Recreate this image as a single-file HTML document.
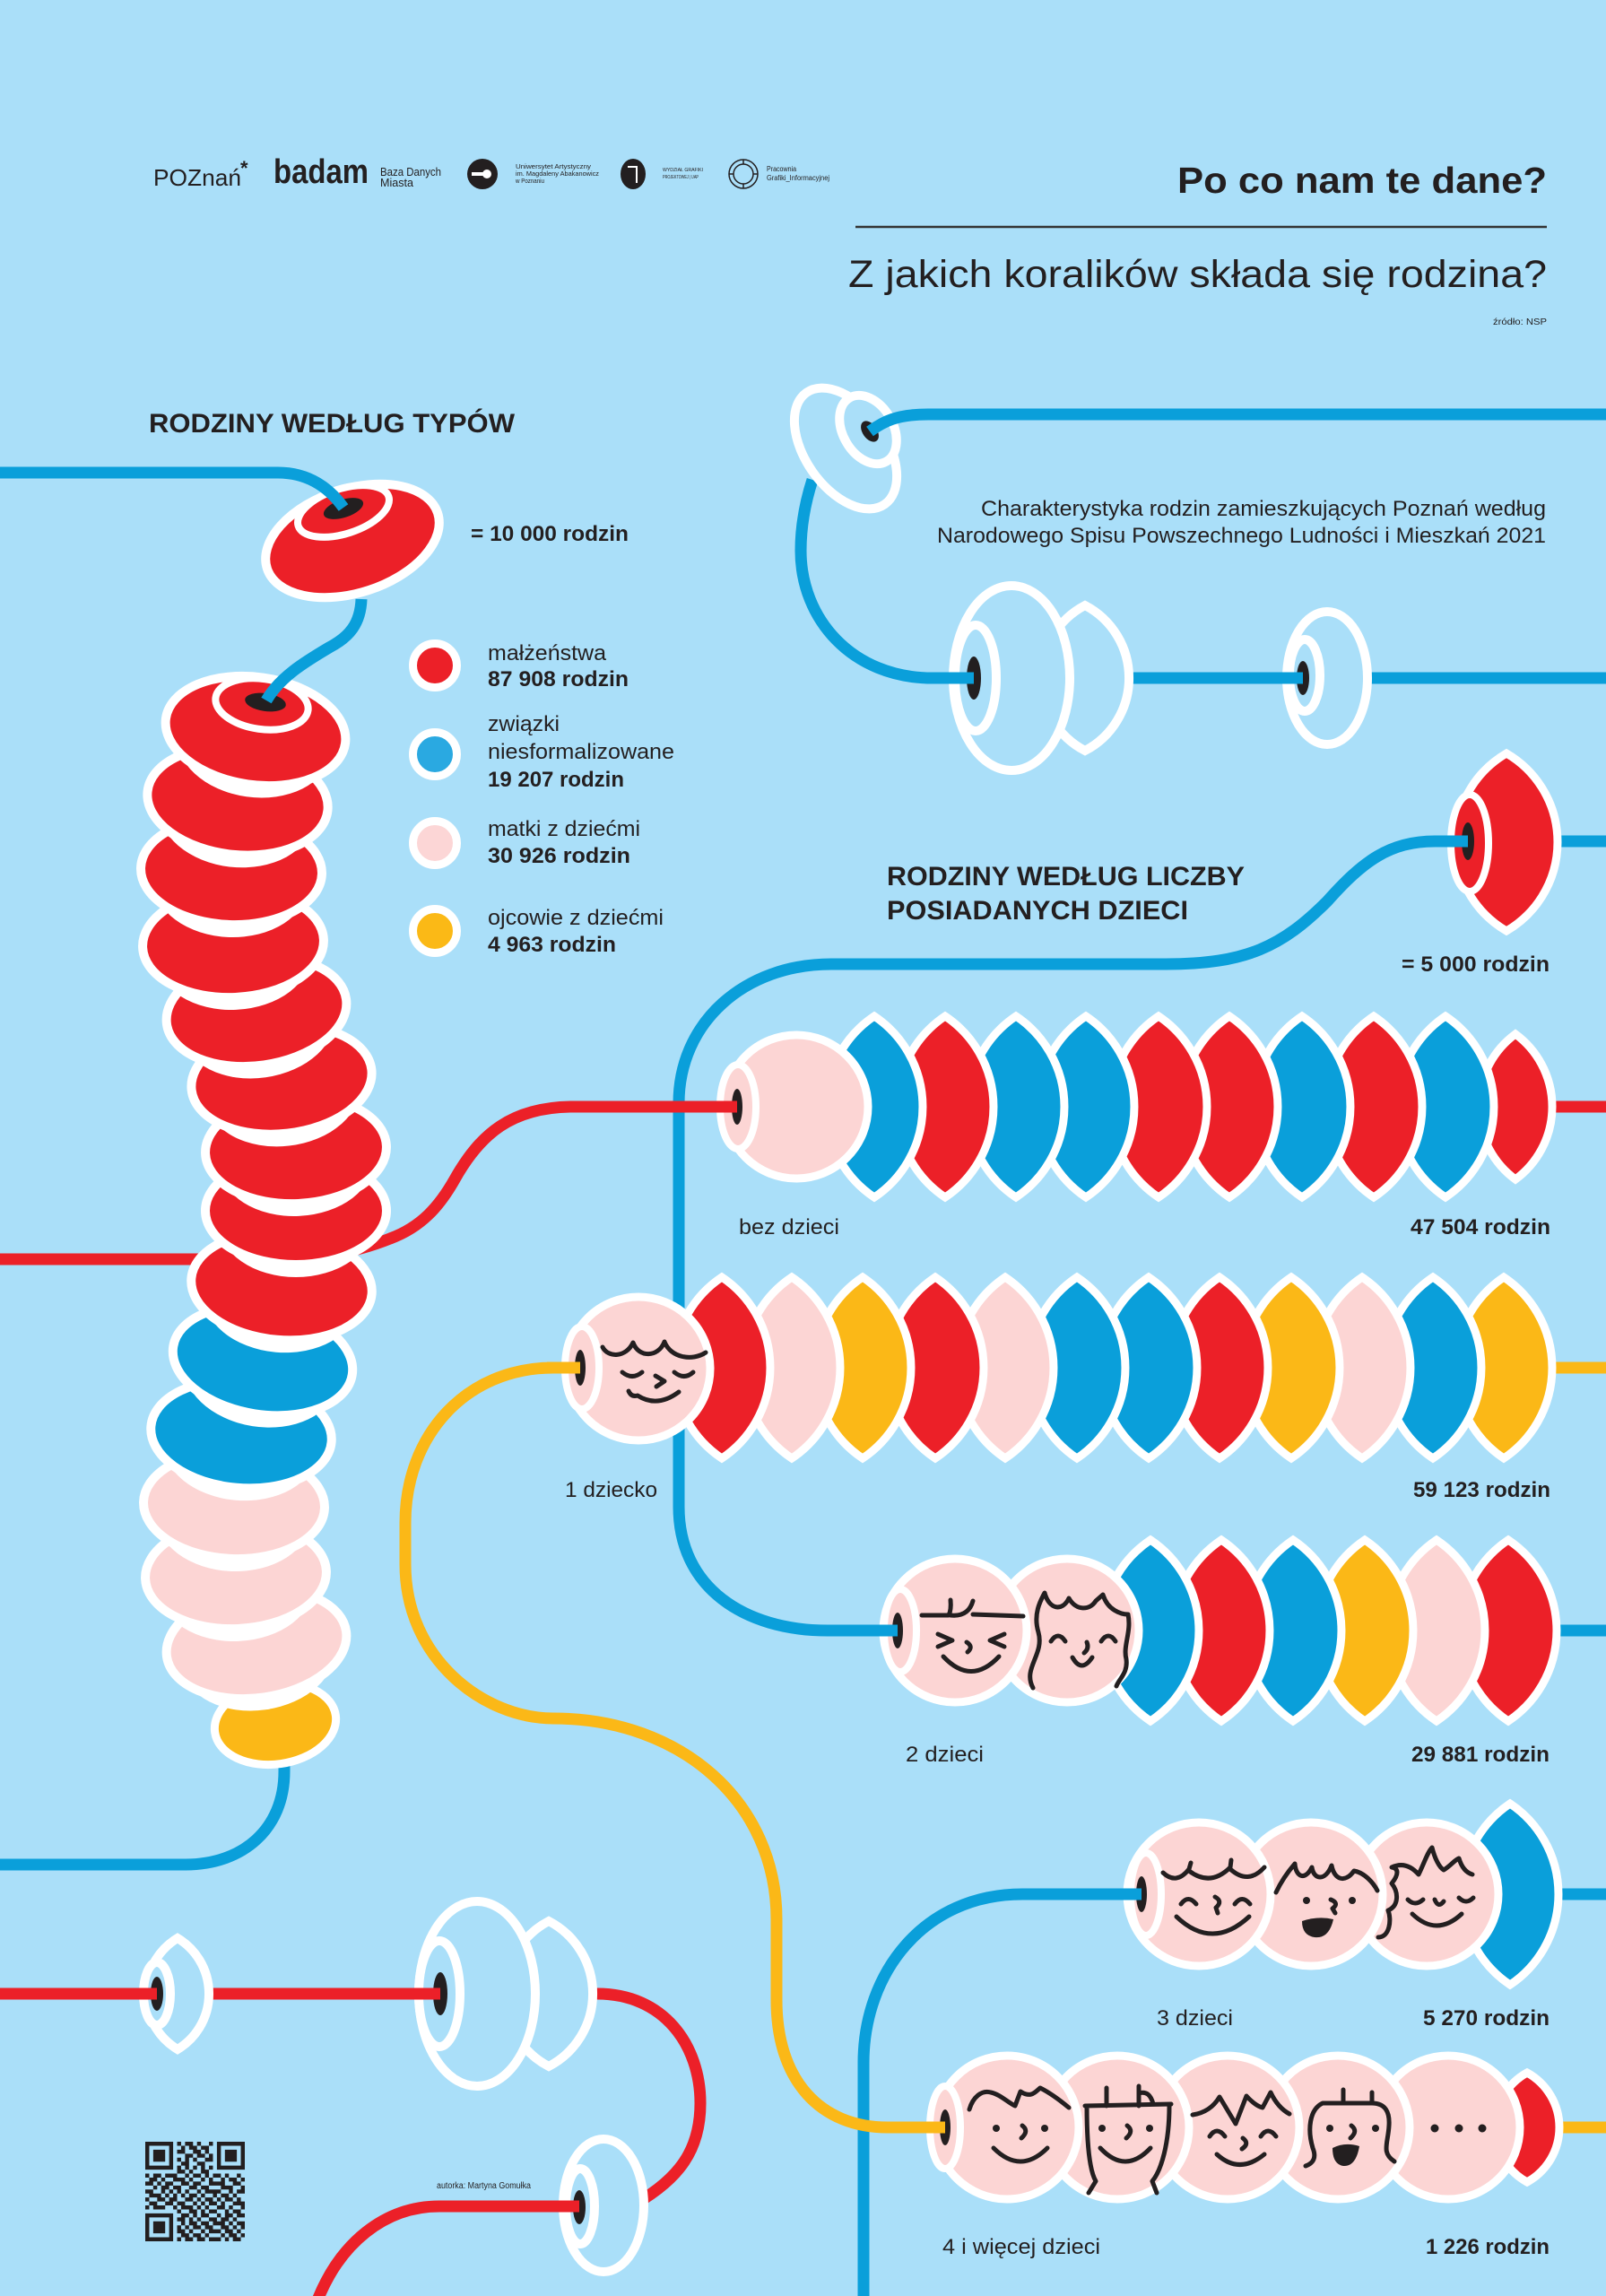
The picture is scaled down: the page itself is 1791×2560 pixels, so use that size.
<!DOCTYPE html>
<html><head><meta charset="utf-8"><style>
html,body{margin:0;padding:0;background:#aadff9;}
svg{display:block}
.t{font-family:"Liberation Sans",sans-serif;fill:#231f20}
.b{font-weight:bold}
.th{fill:none;stroke-width:13}
.bl{stroke:#0a9fda}.rd{stroke:#ec2028}.yl{stroke:#fbb817}
.f{fill:none;stroke:#231f20;stroke-width:5;stroke-linecap:round;stroke-linejoin:round}
.w{stroke:#fff;stroke-width:9}
.o{fill:#aadff9;stroke:#fff;stroke-width:10}
.R{fill:#ec2028}.B{fill:#0a9fda}.P{fill:#fcd5d4}.Y{fill:#fbb817}.K{fill:#231f20}
</style></head><body>
<svg xmlns="http://www.w3.org/2000/svg" width="1791" height="2560" viewBox="0 0 1791 2560">
<rect width="1791" height="2560" fill="#aadff9"/>

<!-- HEADER LOGOS -->
<text class="t" x="171" y="207" font-size="26" textLength="98" lengthAdjust="spacingAndGlyphs">POZnań</text>
<text class="t b" x="268" y="195" font-size="22">*</text>
<text class="t b" x="305" y="204" font-size="38" textLength="106" lengthAdjust="spacingAndGlyphs">badam</text>
<text class="t" x="424" y="196" font-size="13" textLength="68" lengthAdjust="spacingAndGlyphs">Baza Danych</text>
<text class="t" x="424" y="208" font-size="13" textLength="37" lengthAdjust="spacingAndGlyphs">Miasta</text>
<circle cx="538" cy="194" r="17" fill="#231f20"/>
<circle cx="543" cy="194" r="5" fill="#fff"/><rect x="526" y="192" width="14" height="4" fill="#fff"/>
<text class="t" x="575" y="188" font-size="7.5" textLength="84" lengthAdjust="spacingAndGlyphs">Uniwersytet Artystyczny</text>
<text class="t" x="575" y="196" font-size="7.5" textLength="93" lengthAdjust="spacingAndGlyphs">im. Magdaleny Abakanowicz</text>
<text class="t" x="575" y="204" font-size="7.5" textLength="32" lengthAdjust="spacingAndGlyphs">w Poznaniu</text>
<ellipse cx="706" cy="194" rx="14" ry="17" fill="#231f20"/>
<path d="M700,186 L710,186 L710,204" fill="none" stroke="#fff" stroke-width="2"/>
<text class="t" x="739" y="191" font-size="5.5" textLength="45" lengthAdjust="spacingAndGlyphs">WYDZIAŁ GRAFIKI</text>
<text class="t" x="739" y="199" font-size="5.5" textLength="40" lengthAdjust="spacingAndGlyphs">PROJEKTOWEJ | UAP</text>
<circle cx="829" cy="194" r="16" fill="none" stroke="#231f20" stroke-width="1.5"/>
<circle cx="829" cy="194" r="11" fill="none" stroke="#231f20" stroke-width="1.5"/>
<path d="M829,178 v5 M829,205 v5 M813,194 h5 M840,194 h5" stroke="#231f20" stroke-width="1.5"/>
<text class="t" x="855" y="191" font-size="8" textLength="33" lengthAdjust="spacingAndGlyphs">Pracownia</text>
<text class="t" x="855" y="201" font-size="8" textLength="70" lengthAdjust="spacingAndGlyphs">Grafiki_Informacyjnej</text>

<!-- HEADER TITLES -->
<text class="t b" x="1725" y="215" font-size="41" text-anchor="end" textLength="412" lengthAdjust="spacingAndGlyphs">Po co nam te dane?</text>
<line x1="954" y1="253" x2="1725" y2="253" stroke="#333" stroke-width="2.5"/>
<text class="t" x="1725" y="320" font-size="43" text-anchor="end" textLength="779" lengthAdjust="spacingAndGlyphs">Z jakich koralików składa się rodzina?</text>
<text class="t" x="1725" y="362" font-size="10" text-anchor="end" textLength="60" lengthAdjust="spacingAndGlyphs">źródło: NSP</text>

<text class="t b" x="166" y="482" font-size="30" textLength="408" lengthAdjust="spacingAndGlyphs">RODZINY WEDŁUG TYPÓW</text>
<text class="t b" x="525" y="603" font-size="24" textLength="176" lengthAdjust="spacingAndGlyphs">= 10 000 rodzin</text>

<!-- LEGEND -->
<circle cx="485" cy="742" r="24.5" fill="#ec2028" stroke="#fff" stroke-width="9"/>
<circle cx="485" cy="841" r="24.5" fill="#2aa9e1" stroke="#fff" stroke-width="9"/>
<circle cx="485" cy="940" r="24.5" fill="#fcd6d6" stroke="#fff" stroke-width="9"/>
<circle cx="485" cy="1038" r="24.5" fill="#fbb916" stroke="#fff" stroke-width="9"/>
<text class="t" x="544" y="736" font-size="24" textLength="132" lengthAdjust="spacingAndGlyphs">małżeństwa</text>
<text class="t b" x="544" y="765" font-size="24" textLength="157" lengthAdjust="spacingAndGlyphs">87 908 rodzin</text>
<text class="t" x="544" y="815" font-size="24" textLength="80" lengthAdjust="spacingAndGlyphs">związki</text>
<text class="t" x="544" y="846" font-size="24" textLength="208" lengthAdjust="spacingAndGlyphs">niesformalizowane</text>
<text class="t b" x="544" y="877" font-size="24" textLength="152" lengthAdjust="spacingAndGlyphs">19 207 rodzin</text>
<text class="t" x="544" y="932" font-size="24" textLength="170" lengthAdjust="spacingAndGlyphs">matki z dziećmi</text>
<text class="t b" x="544" y="962" font-size="24" textLength="159" lengthAdjust="spacingAndGlyphs">30 926 rodzin</text>
<text class="t" x="544" y="1031" font-size="24" textLength="196" lengthAdjust="spacingAndGlyphs">ojcowie z dziećmi</text>
<text class="t b" x="544" y="1061" font-size="24" textLength="143" lengthAdjust="spacingAndGlyphs">4 963 rodzin</text>

<!-- TEXT right top -->
<text class="t" x="1724" y="575" font-size="24" text-anchor="end" textLength="630" lengthAdjust="spacingAndGlyphs">Charakterystyka rodzin zamieszkujących Poznań według</text>
<text class="t" x="1724" y="605" font-size="24" text-anchor="end" textLength="679" lengthAdjust="spacingAndGlyphs">Narodowego Spisu Powszechnego Ludności i Mieszkań 2021</text>
<text class="t b" x="989" y="987" font-size="30" textLength="399" lengthAdjust="spacingAndGlyphs">RODZINY WEDŁUG LICZBY</text>
<text class="t b" x="989" y="1025" font-size="30" textLength="336" lengthAdjust="spacingAndGlyphs">POSIADANYCH DZIECI</text>
<text class="t b" x="1728" y="1083" font-size="24" text-anchor="end" textLength="165" lengthAdjust="spacingAndGlyphs">= 5 000 rodzin</text>

<!-- ROW LABELS -->
<text class="t" x="824" y="1376" font-size="24" textLength="112" lengthAdjust="spacingAndGlyphs">bez dzieci</text>
<text class="t b" x="1729" y="1376" font-size="24" text-anchor="end" textLength="156" lengthAdjust="spacingAndGlyphs">47 504 rodzin</text>
<text class="t" x="630" y="1669" font-size="24" textLength="103" lengthAdjust="spacingAndGlyphs">1 dziecko</text>
<text class="t b" x="1729" y="1669" font-size="24" text-anchor="end" textLength="153" lengthAdjust="spacingAndGlyphs">59 123 rodzin</text>
<text class="t" x="1010" y="1964" font-size="24" textLength="87" lengthAdjust="spacingAndGlyphs">2 dzieci</text>
<text class="t b" x="1728" y="1964" font-size="24" text-anchor="end" textLength="154" lengthAdjust="spacingAndGlyphs">29 881 rodzin</text>
<text class="t" x="1290" y="2258" font-size="24" textLength="85" lengthAdjust="spacingAndGlyphs">3 dzieci</text>
<text class="t b" x="1728" y="2258" font-size="24" text-anchor="end" textLength="141" lengthAdjust="spacingAndGlyphs">5 270 rodzin</text>
<text class="t" x="1051" y="2513" font-size="24" textLength="176" lengthAdjust="spacingAndGlyphs">4 i więcej dzieci</text>
<text class="t b" x="1728" y="2513" font-size="24" text-anchor="end" textLength="138" lengthAdjust="spacingAndGlyphs">1 226 rodzin</text>
<text class="t" x="487" y="2440" font-size="10" textLength="105" lengthAdjust="spacingAndGlyphs">autorka: Martyna Gomułka</text>

<!-- THREADS (behind) -->
<path class="th bl" d="M317,1940 L317,1975 C317,2040 270,2079 207,2079 L0,2079"/>
<path class="th bl" d="M906,535 C898,560 893,585 893,614 C893,690 950,756 1040,756 L1791,756"/>
<path class="th bl" d="M1637,938 L1791,938"/>
<path class="th bl" d="M1637,938 L1600,938 C1550,938 1520,960 1480,1005 C1430,1055 1390,1075 1300,1075 L927,1075 C830,1075 757,1140 757,1230 L757,1680 C757,1770 830,1818 923,1818 L1791,1818"/>
<path class="th bl" d="M1273,2112 L1140,2112 C1030,2112 963,2200 963,2300 L963,2560"/>
<path class="th bl" d="M1273,2112 L1791,2112"/>
<path class="th yl" d="M647,1525 L1791,1525"/>
<path class="th yl" d="M647,1525 L617,1525 C520,1525 452,1600 452,1698 L452,1744 C452,1850 540,1916 617,1916 C760,1916 866,2010 866,2140 L866,2230 C866,2320 915,2372 990,2372 L1791,2372"/>
<path class="th rd" d="M0,1404 L300,1404 C360,1404 400,1395 435,1381 C470,1368 490,1345 507,1315 C535,1265 570,1234 640,1234 L1791,1234"/>
<path class="th rd" d="M0,2223 L666,2223 C740,2223 781,2280 781,2345 C781,2395 760,2430 700,2462"/>
<path class="th rd" d="M646,2460 L490,2460 C430,2460 378,2500 352,2570"/>

<!-- STACK OF BEADS -->
<g transform="translate(307,1922) rotate(-8)"><ellipse rx="68" ry="45" class="Y w" stroke-width="10"/></g>
<g transform="translate(286,1833) rotate(-8)"><ellipse cy="14" rx="86" ry="60" fill="#fff"/><ellipse rx="101" ry="60" class="P" stroke="#fff" stroke-width="10"/></g>
<g transform="translate(263,1756) rotate(-2.5)"><ellipse cy="14" rx="86" ry="60" fill="#fff"/><ellipse rx="101" ry="60" class="P" stroke="#fff" stroke-width="10"/></g>
<g transform="translate(261,1678) rotate(2)"><ellipse cy="14" rx="86" ry="60" fill="#fff"/><ellipse rx="101" ry="60" class="P" stroke="#fff" stroke-width="10"/></g>
<g transform="translate(269,1599) rotate(5)"><ellipse cy="14" rx="86" ry="60" fill="#fff"/><ellipse rx="101" ry="60" class="B" stroke="#fff" stroke-width="10"/></g>
<g transform="translate(293,1517) rotate(9)"><ellipse cy="14" rx="86" ry="60" fill="#fff"/><ellipse rx="101" ry="60" class="B" stroke="#fff" stroke-width="10"/></g>
<g transform="translate(314,1434) rotate(5)"><ellipse cy="14" rx="86" ry="60" fill="#fff"/><ellipse rx="101" ry="60" class="R" stroke="#fff" stroke-width="10"/></g>
<g transform="translate(330,1350) rotate(0)"><ellipse cy="14" rx="86" ry="60" fill="#fff"/><ellipse rx="101" ry="60" class="R" stroke="#fff" stroke-width="10"/></g>
<g transform="translate(330,1282) rotate(-2.5)"><ellipse cy="14" rx="86" ry="60" fill="#fff"/><ellipse rx="101" ry="60" class="R" stroke="#fff" stroke-width="10"/></g>
<g transform="translate(314,1204) rotate(-6.5)"><ellipse cy="14" rx="86" ry="60" fill="#fff"/><ellipse rx="101" ry="60" class="R" stroke="#fff" stroke-width="10"/></g>
<g transform="translate(286,1128) rotate(-8)"><ellipse cy="14" rx="86" ry="60" fill="#fff"/><ellipse rx="101" ry="60" class="R" stroke="#fff" stroke-width="10"/></g>
<g transform="translate(260,1052) rotate(-2.5)"><ellipse cy="14" rx="86" ry="60" fill="#fff"/><ellipse rx="101" ry="60" class="R" stroke="#fff" stroke-width="10"/></g>
<g transform="translate(258,971) rotate(2)"><ellipse cy="14" rx="86" ry="60" fill="#fff"/><ellipse rx="101" ry="60" class="R" stroke="#fff" stroke-width="10"/></g>
<g transform="translate(265,893) rotate(6)"><ellipse cy="14" rx="86" ry="60" fill="#fff"/><ellipse rx="101" ry="60" class="R" stroke="#fff" stroke-width="10"/></g>
<g transform="translate(285,815) rotate(8)"><ellipse cy="14" rx="86" ry="60" fill="#fff"/><ellipse rx="101" ry="60" class="R" stroke="#fff" stroke-width="10"/></g>
<ellipse cx="292" cy="785" rx="52" ry="28" transform="rotate(8 292 785)" class="R" stroke="#fff" stroke-width="8"/>
<ellipse cx="296" cy="783" rx="23" ry="10" transform="rotate(8 296 783)" class="K"/>
<path class="th bl" d="M403,668 C402,695 390,710 367,722 C340,738 312,755 297,781"/>

<!-- LEGEND BEAD 10 000 -->
<g transform="translate(393,603) rotate(-18)"><ellipse rx="100" ry="58" class="R" stroke="#fff" stroke-width="10"/></g>
<ellipse cx="383" cy="570" rx="53" ry="25" transform="rotate(-18 383 570)" class="R" stroke="#fff" stroke-width="8"/>
<ellipse cx="383" cy="567" rx="23" ry="10" transform="rotate(-18 383 567)" class="K"/>
<path class="th bl" d="M0,527 L310,527 C345,527 368,545 383,566"/>

<!-- TOP RIGHT DECORATIVE BEADS -->
<ellipse cx="943" cy="500" rx="76" ry="45" transform="rotate(55 943 500)" class="o"/>
<ellipse cx="968" cy="479" rx="41" ry="28" transform="rotate(60 968 479)" class="o"/>
<ellipse cx="970" cy="481" rx="13" ry="8" transform="rotate(55 970 481)" class="K"/>
<path class="th bl" d="M970,481 C985,470 1000,462 1035,462 L1791,462"/>
<path d="M1210,675 A91.4,91.4 0 0 1 1210,837 A91.4,91.4 0 0 1 1210,675Z" class="o"/>
<ellipse cx="1128" cy="756" rx="65" ry="103" class="o"/>
<ellipse cx="1088" cy="756" rx="23" ry="59" class="o"/>
<ellipse cx="1086" cy="756" rx="8" ry="24" class="K"/>
<path class="th bl" d="M1050,756 L1086,756"/>
<ellipse cx="1480" cy="756" rx="45" ry="74" class="o"/>
<ellipse cx="1455" cy="753" rx="17" ry="40" class="o"/>
<ellipse cx="1453" cy="756" rx="7" ry="19" class="K"/>
<path class="th bl" d="M1425,756 L1453,756"/>

<!-- 5000 BEAD -->
<path d="M1680,840 A114.5,114.5 0 0 1 1680,1038 A114.5,114.5 0 0 1 1680,840Z" class="R w" stroke-width="10"/>
<ellipse cx="1639" cy="940" rx="21" ry="54" class="R" stroke="#fff" stroke-width="8"/>
<ellipse cx="1637" cy="938" rx="7" ry="21" class="K"/>
<path class="th bl" d="M1600,938 L1637,938"/>

<!-- ROW 0: bez dzieci -->
<g stroke="#fff" stroke-width="9">
<path class="R" d="M1690,1153 A100.5,100.5 0 0 1 1690,1315 A100.5,100.5 0 0 1 1690,1153Z"/>
<path class="B" d="M1612,1133 A121.5,121.5 0 0 1 1612,1335 A121.5,121.5 0 0 1 1612,1133Z"/>
<path class="R" d="M1532,1133 A121.5,121.5 0 0 1 1532,1335 A121.5,121.5 0 0 1 1532,1133Z"/>
<path class="B" d="M1452,1133 A121.5,121.5 0 0 1 1452,1335 A121.5,121.5 0 0 1 1452,1133Z"/>
<path class="R" d="M1371,1133 A121.5,121.5 0 0 1 1371,1335 A121.5,121.5 0 0 1 1371,1133Z"/>
<path class="R" d="M1292,1133 A121.5,121.5 0 0 1 1292,1335 A121.5,121.5 0 0 1 1292,1133Z"/>
<path class="B" d="M1211,1133 A121.5,121.5 0 0 1 1211,1335 A121.5,121.5 0 0 1 1211,1133Z"/>
<path class="B" d="M1133,1133 A121.5,121.5 0 0 1 1133,1335 A121.5,121.5 0 0 1 1133,1133Z"/>
<path class="R" d="M1054,1133 A121.5,121.5 0 0 1 1054,1335 A121.5,121.5 0 0 1 1054,1133Z"/>
<path class="B" d="M975,1133 A121.5,121.5 0 0 1 975,1335 A121.5,121.5 0 0 1 975,1133Z"/>
<circle class="P" cx="888" cy="1234" r="80"/>
<ellipse class="P" cx="823" cy="1234" rx="20" ry="47" stroke-width="8"/>
</g>
<ellipse cx="822" cy="1234" rx="6" ry="20" class="K"/>
<path class="th rd" d="M790,1234 L822,1234"/>

<!-- ROW 1: 1 dziecko -->
<g stroke="#fff" stroke-width="9">
<path class="Y" d="M1677,1424 A121.5,121.5 0 0 1 1677,1626 A121.5,121.5 0 0 1 1677,1424Z"/>
<path class="B" d="M1598,1424 A121.5,121.5 0 0 1 1598,1626 A121.5,121.5 0 0 1 1598,1424Z"/>
<path class="P" d="M1519,1424 A121.5,121.5 0 0 1 1519,1626 A121.5,121.5 0 0 1 1519,1424Z"/>
<path class="Y" d="M1440,1424 A121.5,121.5 0 0 1 1440,1626 A121.5,121.5 0 0 1 1440,1424Z"/>
<path class="R" d="M1360,1424 A121.5,121.5 0 0 1 1360,1626 A121.5,121.5 0 0 1 1360,1424Z"/>
<path class="B" d="M1281,1424 A121.5,121.5 0 0 1 1281,1626 A121.5,121.5 0 0 1 1281,1424Z"/>
<path class="B" d="M1201,1424 A121.5,121.5 0 0 1 1201,1626 A121.5,121.5 0 0 1 1201,1424Z"/>
<path class="P" d="M1121,1424 A121.5,121.5 0 0 1 1121,1626 A121.5,121.5 0 0 1 1121,1424Z"/>
<path class="R" d="M1043,1424 A121.5,121.5 0 0 1 1043,1626 A121.5,121.5 0 0 1 1043,1424Z"/>
<path class="Y" d="M962,1424 A121.5,121.5 0 0 1 962,1626 A121.5,121.5 0 0 1 962,1424Z"/>
<path class="P" d="M883,1424 A121.5,121.5 0 0 1 883,1626 A121.5,121.5 0 0 1 883,1424Z"/>
<path class="R" d="M805,1424 A121.5,121.5 0 0 1 805,1626 A121.5,121.5 0 0 1 805,1424Z"/>
<circle class="P" cx="712" cy="1526" r="80"/>
<ellipse class="P" cx="649" cy="1525" rx="19" ry="46" stroke-width="8"/>
</g>
<ellipse cx="647" cy="1525" rx="6" ry="20" class="K"/>
<path class="th yl" d="M610,1525 L647,1525"/>
<path class="f" d="M672,1502 C678,1514 698,1514 706,1497 C712,1514 734,1514 741,1496 C748,1514 772,1518 787,1508"/>
<path class="f" d="M694,1530 Q705,1539 716,1530 M752,1530 Q763,1539 773,1530"/>
<path class="f" d="M731,1534 L741,1540 L732,1546"/>
<path class="f" d="M701,1551 Q704,1558 711,1556 Q733,1570 757,1552"/>

<!-- ROW 2: 2 dzieci -->
<g stroke="#fff" stroke-width="9">
<path class="R" d="M1682,1717 A121.5,121.5 0 0 1 1682,1919 A121.5,121.5 0 0 1 1682,1717Z"/>
<path class="P" d="M1602,1717 A121.5,121.5 0 0 1 1602,1919 A121.5,121.5 0 0 1 1602,1717Z"/>
<path class="Y" d="M1522,1717 A121.5,121.5 0 0 1 1522,1919 A121.5,121.5 0 0 1 1522,1717Z"/>
<path class="B" d="M1442,1717 A121.5,121.5 0 0 1 1442,1919 A121.5,121.5 0 0 1 1442,1717Z"/>
<path class="R" d="M1362,1717 A121.5,121.5 0 0 1 1362,1919 A121.5,121.5 0 0 1 1362,1717Z"/>
<path class="B" d="M1283,1717 A121.5,121.5 0 0 1 1283,1919 A121.5,121.5 0 0 1 1283,1717Z"/>
<circle class="P" cx="1190" cy="1818" r="80"/>
<circle class="P" cx="1065" cy="1818" r="80"/>
<ellipse class="P" cx="1004" cy="1818" rx="18" ry="46" stroke-width="8"/>
</g>
<ellipse cx="1001" cy="1818" rx="6" ry="20" class="K"/>
<path class="th bl" d="M962,1818 L1001,1818"/>
<path class="f" d="M1028,1801 L1058,1801 Q1061,1795 1060,1784 M1060,1801 Q1080,1803 1085,1785 M1085,1800 L1141,1802"/>
<path class="f" d="M1046,1822 L1062,1829 L1046,1836 M1120,1822 L1104,1829 L1120,1836"/>
<path class="f" d="M1078,1831 Q1086,1836 1079,1842"/>
<path class="f" d="M1052,1847 Q1083,1880 1114,1847"/>
<path class="f" d="M1152,1882 C1140,1860 1165,1845 1158,1820 C1152,1800 1160,1785 1165,1776 C1170,1795 1185,1797 1192,1782 C1200,1796 1215,1796 1222,1785 L1230,1778 C1235,1795 1250,1800 1258,1800 C1262,1820 1252,1835 1256,1850 C1258,1865 1248,1872 1245,1880"/>
<path class="f" d="M1172,1830 Q1180,1818 1188,1830 M1228,1830 Q1236,1818 1244,1830"/>
<path class="f" d="M1212,1831 Q1215,1838 1209,1843"/>
<path class="f" d="M1196,1848 Q1206,1866 1218,1848"/>

<!-- ROW 3: 3 dzieci -->
<g stroke="#fff" stroke-width="9">
<path class="B" d="M1684,2011 A121.5,121.5 0 0 1 1684,2213 A121.5,121.5 0 0 1 1684,2011Z"/>
<circle class="P" cx="1591" cy="2112" r="80"/>
<circle class="P" cx="1462" cy="2112" r="80"/>
<circle class="P" cx="1337" cy="2112" r="80"/>
<ellipse class="P" cx="1278" cy="2112" rx="17" ry="46" stroke-width="8"/>
</g>
<ellipse cx="1273" cy="2112" rx="6" ry="20" class="K"/>
<path class="th bl" d="M1235,2112 L1273,2112"/>
<path class="f" d="M1297,2088 Q1312,2102 1326,2084 L1328,2077 M1326,2086 Q1350,2104 1372,2082 L1373,2074 M1372,2084 Q1392,2102 1410,2082"/>
<path class="f" d="M1317,2123 Q1325,2112 1334,2123 M1377,2123 Q1385,2112 1394,2123"/>
<path class="f" d="M1355,2115 Q1364,2120 1356,2127 L1358,2133"/>
<path class="f" d="M1312,2137 Q1352,2175 1393,2137"/>
<path class="f" d="M1423,2110 C1430,2095 1438,2085 1444,2078 C1445,2092 1455,2098 1463,2082 C1465,2096 1478,2098 1485,2080 C1488,2096 1500,2100 1510,2086 C1522,2088 1532,2100 1536,2108"/>
<circle cx="1457" cy="2119" r="4" class="K"/><circle cx="1508" cy="2119" r="4" class="K"/>
<path class="f" d="M1484,2118 Q1494,2122 1486,2128 L1489,2133"/>
<path class="K" d="M1452,2142 Q1470,2136 1487,2140 Q1482,2162 1466,2160 Q1452,2158 1452,2142Z"/>
<path class="f" d="M1537,2160 C1550,2160 1552,2140 1548,2130 C1560,2125 1560,2110 1552,2100 C1560,2090 1560,2083 1552,2082 C1565,2076 1575,2082 1582,2090 C1588,2078 1592,2065 1597,2060 C1600,2072 1605,2082 1610,2085 C1618,2080 1622,2074 1627,2072 C1630,2082 1635,2088 1642,2090"/>
<path class="f" d="M1570,2118 Q1578,2126 1587,2118 M1627,2116 Q1635,2124 1643,2116"/>
<path class="f" d="M1600,2118 Q1604,2128 1610,2120"/>
<path class="f" d="M1575,2134 Q1602,2160 1630,2134"/>

<!-- ROW 4: 4 i więcej -->
<g stroke="#fff" stroke-width="9">
<path class="R" d="M1703,2311 A69.7,69.7 0 0 1 1703,2433 A69.7,69.7 0 0 1 1703,2311Z"/>
<circle class="P" cx="1615" cy="2372" r="80"/>
<circle class="P" cx="1492" cy="2372" r="80"/>
<circle class="P" cx="1369" cy="2372" r="80"/>
<circle class="P" cx="1246" cy="2372" r="80"/>
<circle class="P" cx="1123" cy="2372" r="80"/>
<ellipse class="P" cx="1054" cy="2372" rx="17" ry="46" stroke-width="8"/>
</g>
<ellipse cx="1054" cy="2372" rx="6" ry="20" class="K"/>
<path class="th yl" d="M1015,2372 L1054,2372"/>
<path class="f" d="M1081,2352 C1085,2338 1095,2330 1105,2333 C1115,2335 1125,2345 1132,2348 L1138,2332 C1150,2340 1155,2332 1160,2328 C1170,2333 1180,2340 1192,2350"/>
<circle cx="1111" cy="2373" r="4" class="K"/><circle cx="1165" cy="2373" r="4" class="K"/>
<path class="f" d="M1140,2370 Q1148,2376 1139,2384"/>
<path class="f" d="M1108,2395 Q1138,2425 1168,2395"/>
<path class="f" d="M1210,2348 L1306,2346 M1212,2348 C1212,2390 1215,2420 1222,2432 L1214,2445 M1304,2348 C1304,2390 1295,2420 1285,2432 L1290,2445 M1234,2348 L1234,2328 M1270,2348 L1270,2326 M1270,2334 Q1282,2330 1286,2346"/>
<circle cx="1229" cy="2373" r="4" class="K"/><circle cx="1282" cy="2373" r="4" class="K"/>
<path class="f" d="M1257,2370 Q1265,2376 1256,2384"/>
<path class="f" d="M1227,2395 Q1255,2425 1283,2395"/>
<path class="f" d="M1330,2358 Q1350,2355 1360,2338 L1378,2368 L1390,2337 Q1400,2348 1408,2350 L1417,2333 Q1425,2350 1438,2357"/>
<path class="f" d="M1349,2382 Q1357,2370 1366,2382 M1406,2382 Q1414,2370 1423,2382"/>
<path class="f" d="M1386,2384 Q1394,2390 1385,2396"/>
<path class="f" d="M1357,2402 Q1382,2425 1410,2402"/>
<path class="f" d="M1456,2415 Q1470,2410 1464,2395 C1458,2375 1460,2352 1475,2345 L1498,2345 L1498,2330 M1498,2345 L1530,2345 L1530,2333 M1530,2345 C1545,2345 1550,2355 1549,2370 C1548,2390 1540,2400 1555,2410"/>
<circle cx="1483" cy="2373" r="4" class="K"/><circle cx="1534" cy="2373" r="4" class="K"/>
<path class="f" d="M1507,2370 Q1515,2376 1506,2384"/>
<path class="K" d="M1486,2395 Q1500,2388 1516,2393 Q1512,2416 1498,2415 Q1486,2413 1486,2395Z"/>
<circle cx="1600" cy="2373" r="4.5" class="K"/><circle cx="1627" cy="2373" r="4.5" class="K"/><circle cx="1653" cy="2373" r="4.5" class="K"/>

<!-- BOTTOM LEFT DECORATIVE BEADS -->
<path d="M198,2161 A72.4,72.4 0 0 1 198,2285 A72.4,72.4 0 0 1 198,2161Z" class="o"/>
<ellipse cx="175" cy="2223" rx="15" ry="35" class="o"/>
<ellipse cx="175" cy="2223" rx="7" ry="19" class="K"/>
<path class="th rd" d="M140,2223 L175,2223"/>
<path d="M612,2142 A91.4,91.4 0 0 1 612,2304 A91.4,91.4 0 0 1 612,2142Z" class="o"/>
<ellipse cx="532" cy="2223" rx="65" ry="103" class="o"/>
<ellipse cx="490" cy="2223" rx="23" ry="59" class="o"/>
<ellipse cx="491" cy="2223" rx="8" ry="24" class="K"/>
<path class="th rd" d="M450,2223 L491,2223"/>
<ellipse cx="673" cy="2459" rx="45" ry="74" class="o"/>
<ellipse cx="647" cy="2460" rx="16" ry="42" class="o"/>
<ellipse cx="646" cy="2461" rx="7" ry="19" class="K"/>
<path class="th rd" d="M600,2460 L646,2460"/>

<!-- QR CODE -->
<g transform="translate(162,2388) scale(4.44)" fill="#231f20">
<path fill-rule="evenodd" d="M0 0h7v7h-7z M1 1v5h5v-5z M2 2h3v3h-3z M18 0h7v7h-7z M19 1v5h5v-5z M20 2h3v3h-3z M0 18h7v7h-7z M1 19v5h5v-5z M2 20h3v3h-3z"/>
<path d="M8 0h1v1h-1z M10 0h2v1h-2z M13 0h1v1h-1z M16 0h1v1h-1z
M9 1h1v1h-1z M11 1h2v1h-2z M14 1h2v1h-2z
M8 2h2v1h-2z M12 2h2v1h-2z M15 2h1v1h-1z
M10 3h2v1h-2z M13 3h2v1h-2z M16 3h1v1h-1z
M8 4h1v1h-1z M10 4h1v1h-1z M12 4h1v1h-1z M15 4h2v1h-2z
M9 5h2v1h-2z M13 5h2v1h-2z
M8 6h1v1h-1z M10 6h1v1h-1z M12 6h1v1h-1z M14 6h1v1h-1z M16 6h1v1h-1z
M8 7h2v1h-2z M11 7h1v1h-1z M14 7h2v1h-2z
M0 8h1v1h-1z M2 8h2v1h-2z M5 8h3v1h-3z M10 8h1v1h-1z M12 8h2v1h-2z M15 8h1v1h-1z M17 8h2v1h-2z M20 8h1v1h-1z M23 8h1v1h-1z
M1 9h2v1h-2z M4 9h1v1h-1z M7 9h3v1h-3z M11 9h1v1h-1z M14 9h1v1h-1z M16 9h1v1h-1z M19 9h1v1h-1z M21 9h2v1h-2z M24 9h1v1h-1z
M0 10h2v1h-2z M3 10h1v1h-1z M5 10h2v1h-2z M9 10h2v1h-2z M12 10h2v1h-2z M16 10h4v1h-4z M22 10h2v1h-2z
M2 11h1v1h-1z M4 11h2v1h-2z M7 11h2v1h-2z M11 11h2v1h-2z M14 11h2v1h-2z M19 11h3v1h-3z M24 11h1v1h-1z
M0 12h2v1h-2z M4 12h1v1h-1z M6 12h1v1h-1z M8 12h1v1h-1z M10 12h1v1h-1z M13 12h1v1h-1z M15 12h4v1h-4z M21 12h1v1h-1z M23 12h2v1h-2z
M1 13h3v1h-3z M5 13h1v1h-1z M7 13h1v1h-1z M9 13h1v1h-1z M11 13h2v1h-2z M14 13h1v1h-1z M17 13h1v1h-1z M19 13h2v1h-2z M22 13h1v1h-1z
M0 14h1v1h-1z M3 14h2v1h-2z M6 14h2v1h-2z M10 14h2v1h-2z M13 14h1v1h-1z M15 14h2v1h-2z M18 14h1v1h-1z M20 14h2v1h-2z M23 14h1v1h-1z
M1 15h2v1h-2z M5 15h2v1h-2z M8 15h2v1h-2z M12 15h1v1h-1z M14 15h1v1h-1z M16 15h2v1h-2z M19 15h1v1h-1z M22 15h3v1h-3z
M0 16h1v1h-1z M2 16h3v1h-3z M7 16h1v1h-1z M9 16h3v1h-3z M13 16h1v1h-1z M15 16h1v1h-1z M18 16h2v1h-2z M21 16h1v1h-1z M24 16h1v1h-1z
M8 17h1v1h-1z M11 17h2v1h-2z M14 17h1v1h-1z M16 17h2v1h-2z M20 17h1v1h-1z M22 17h2v1h-2z
M9 18h2v1h-2z M12 18h1v1h-1z M14 18h2v1h-2z M18 18h1v1h-1z M20 18h2v1h-2z M23 18h2v1h-2z
M8 19h2v1h-2z M11 19h1v1h-1z M13 19h1v1h-1z M16 19h2v1h-2z M19 19h2v1h-2z M22 19h1v1h-1z
M9 20h1v1h-1z M11 20h2v1h-2z M14 20h2v1h-2z M17 20h3v1h-3z M21 20h1v1h-1z M23 20h2v1h-2z
M8 21h1v1h-1z M10 21h1v1h-1z M12 21h2v1h-2z M15 21h2v1h-2z M19 21h2v1h-2z M22 21h1v1h-1z M24 21h1v1h-1z
M8 22h2v1h-2z M11 22h1v1h-1z M14 22h1v1h-1z M16 22h3v1h-3z M20 22h2v1h-2z M23 22h1v1h-1z
M9 23h2v1h-2z M12 23h2v1h-2z M15 23h1v1h-1z M19 23h1v1h-1z M21 23h2v1h-2z M24 23h1v1h-1z
M8 24h1v1h-1z M10 24h2v1h-2z M13 24h2v1h-2z M16 24h3v1h-3z M20 24h1v1h-1z M22 24h2v1h-2z"/>
</g>
</svg>
</body></html>
